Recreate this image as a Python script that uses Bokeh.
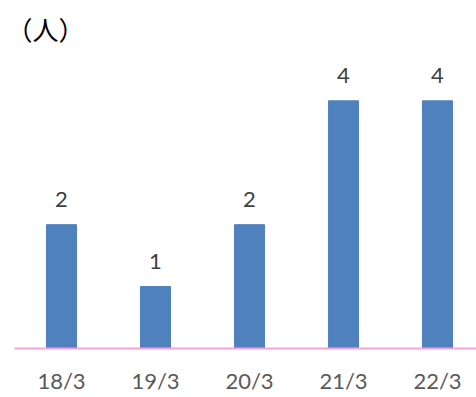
from bokeh.plotting import figure
from bokeh.models import ColumnDataSource, Label, Range1d, FixedTicker
from bokeh.core.properties import value
from bokeh.embed import file_html
from bokeh.resources import INLINE

categories = ["18/3", "19/3", "20/3", "21/3", "22/3"]
counts = [2, 1, 2, 4, 4]
unit_label = "（人）"

xs = list(range(len(categories)))
src = ColumnDataSource(dict(x=xs, top=counts, lab=[str(c) for c in counts],
                            ly=[c + 0.41 for c in counts]))

p = figure(width=476, height=397, output_backend="svg", toolbar_location=None,
           x_range=Range1d(-0.5, 4.415), y_range=Range1d(0, 5.62),
           min_border_left=14, min_border_right=0, min_border_top=0, min_border_bottom=49)
p.outline_line_color = None
p.xgrid.visible = False
p.ygrid.visible = False
p.yaxis.visible = False

p.vbar(x="x", top="top", width=0.32, source=src, color="#4F81BD")
p.text(x="x", y="ly", text="lab", source=src, text_align="center", text_baseline="middle",
       text_font=value("Lato"), text_font_size="22px", text_color="#404040")

ax = p.xaxis[0]
ax.ticker = FixedTicker(ticks=xs)
ax.major_label_overrides = {i: c for i, c in enumerate(categories)}
ax.axis_line_color = "#F7A1E3"
ax.axis_line_width = 2
ax.major_tick_line_color = None
ax.minor_tick_line_color = None
ax.major_tick_in = 0
ax.major_tick_out = 0
ax.major_label_standoff = 18
ax.major_label_text_font = "Lato"
ax.major_label_text_font_size = "22px"
ax.major_label_text_color = "#595959"

p.add_layout(Label(x=-0.5 - 8 / 94, y=5.62 - 28 / 61.9, text=unit_label,
                   text_font="Noto Sans CJK JP", text_font_size="26px",
                   text_color="#000000", text_baseline="middle"))

open("out.html", "w").write(file_html(p, INLINE))
